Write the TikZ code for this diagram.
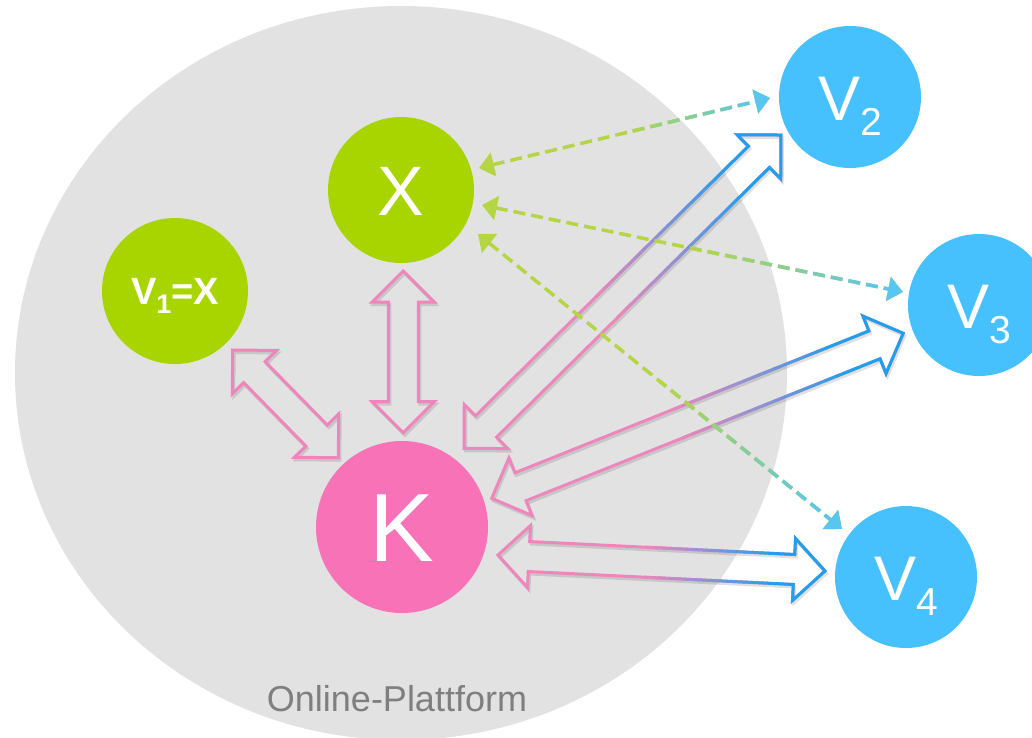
\documentclass[tikz,border=0pt]{standalone}
\usepackage{fontspec}
\setmainfont{Liberation Sans}
\usetikzlibrary{arrows.meta}
\definecolor{bgc}{HTML}{E2E2E2}
\definecolor{grn}{HTML}{A8D400}
\definecolor{pnk}{HTML}{F772B6}
\definecolor{blu}{HTML}{47C1FE}
\definecolor{apink}{HTML}{EE86BC}
\definecolor{ablue}{HTML}{1FA0EE}
\definecolor{dgreen}{HTML}{B6D545}
\definecolor{dblue}{HTML}{59C6F2}
\definecolor{labelgray}{HTML}{7F7F7F}
\tikzset{
  ball/.style={circle, inner sep=0pt, text=white},
  blockline/.style={line width=3pt, line join=miter},
  blockshape/.style={insert path={(0,0) -- (31,31) -- (31,15) -- ({\blen-31},15) -- ({\blen-31},31) -- ({\blen},0) -- ({\blen-31},-31) -- ({\blen-31},-15) -- (31,-15) -- (31,-31) -- cycle}},
  dline/.style={line width=3.5pt, dash pattern=on 12pt off 6pt, >={Triangle[length=15pt,width=24pt]}, <->}
}
\newcommand{\myblockarrow}[5]{%
  \pgfpointdiff{\pgfpointanchor{#1}{center}}{\pgfpointanchor{#2}{center}}%
  \pgfgetlastxy{\bdx}{\bdy}%
  \pgfmathsetmacro{\bang}{atan2(\bdy,\bdx)}%
  \pgfmathsetmacro{\blen}{veclen(\bdx,\bdy)}%
  \begin{scope}[shift={(#1)}, shift={(1.5,2.5)}, rotate=\bang]
    \draw[blockline, draw=black, opacity=0.12, blockshape];
  \end{scope}
  \begin{scope}[shift={(#1)}, rotate=\bang]
    \draw[blockline, draw=#3, blockshape];
    \ifnum#5=1
      \foreach \k in {0,...,15}{%
        \pgfmathsetmacro{\ta}{(0.45+0.025*\k)*\blen}%
        \pgfmathsetmacro{\tb}{(0.45+0.025*(\k+1))*\blen+0.5}%
        \pgfmathtruncatemacro{\pc}{round(100*(\k+0.5)/16)}%
        \begin{scope}
          \clip (\ta,-50) rectangle (\tb,50);
          \draw[blockline, draw=#4!\pc!#3, blockshape];
        \end{scope}}
      \begin{scope}
        \clip ({0.85*\blen},-50) rectangle ({\blen+20},50);
        \draw[blockline, draw=#4, blockshape];
      \end{scope}
    \fi
  \end{scope}}
\newcommand{\mydasharrow}[4]{%
  \pgfpointdiff{\pgfpointanchor{#1}{center}}{\pgfpointanchor{#2}{center}}%
  \pgfgetlastxy{\ddx}{\ddy}%
  \pgfmathsetmacro{\dang}{atan2(\ddy,\ddx)}%
  \pgfmathsetmacro{\dlen}{veclen(\ddx,\ddy)}%
  \begin{scope}[shift={(#1)}, rotate=\dang]
    \draw[dline, draw=#3] (0,0) -- (\dlen,0);
    \foreach \k in {0,...,15}{%
      \pgfmathsetmacro{\ta}{(0.5+0.028*\k)*\dlen}%
      \pgfmathsetmacro{\tb}{(0.5+0.028*(\k+1))*\dlen+0.5}%
      \pgfmathtruncatemacro{\pc}{round(100*(\k+0.5)/16)}%
      \begin{scope}
        \clip (\ta,-30) rectangle (\tb,30);
        \draw[dline, draw=#4!\pc!#3] (0,0) -- (\dlen,0);
      \end{scope}}
    \begin{scope}
      \clip ({0.948*\dlen},-30) rectangle ({\dlen+10},30);
      \draw[dline, draw=#4] (0,0) -- (\dlen,0);
    \end{scope}
  \end{scope}}
\begin{document}
\begin{tikzpicture}[x=1pt,y=-1pt]
\clip (0,0) rectangle (1032,737);
\fill[white] (0,0) rectangle (1032,737);
% platform
\fill[bgc] (401,373) ellipse [x radius=386, y radius=367];
\node[anchor=base, text=labelgray, font=\fontsize{36}{36}\selectfont] (plat) at (397,711.5) {Online-Plattform};

% nodes
\node[ball, fill=grn, minimum size=146pt] (X) at (401,190)
  {\raisebox{-25pt}[0pt][0pt]{\fontsize{70}{70}\selectfont X}};
\node[ball, fill=grn, minimum size=146pt] (V1) at (175,291)
  {\raisebox{-13pt}[0pt][0pt]{\fontsize{38}{38}\selectfont\bfseries V\raisebox{-9pt}{\fontsize{27}{27}\selectfont 1}=X}};
\node[ball, fill=pnk, minimum size=172pt] (K) at (402,527)
  {\raisebox{-34.5pt}[0pt][0pt]{\fontsize{97}{97}\selectfont K}};
\node[ball, fill=blu, minimum size=142pt] (V2) at (850,97)
  {\raisebox{-23pt}[0pt][0pt]{\fontsize{63}{63}\selectfont V\raisebox{-15pt}{\fontsize{39}{39}\selectfont 2}}};
\node[ball, fill=blu, minimum size=142pt] (V3) at (979,305)
  {\raisebox{-23pt}[0pt][0pt]{\fontsize{63}{63}\selectfont V\raisebox{-15pt}{\fontsize{39}{39}\selectfont 3}}};
\node[ball, fill=blu, minimum size=142pt] (V4) at (906,577)
  {\raisebox{-23pt}[0pt][0pt]{\fontsize{63}{63}\selectfont V\raisebox{-15pt}{\fontsize{39}{39}\selectfont 4}}};

% arrow end points
\coordinate (a1s) at (232.7,350);   \coordinate (a1e) at (338.3,457.7);
\coordinate (a2s) at (403.3,271);   \coordinate (a2e) at (403.3,432.7);
\coordinate (a3s) at (464,448.3);   \coordinate (a3e) at (781,135);
\coordinate (a4s) at (491.7,498.3); \coordinate (a4e) at (903.3,333.3);
\coordinate (a5s) at (498,555);     \coordinate (a5e) at (825,571);
\coordinate (d1s) at (479,168);     \coordinate (d1e) at (770,98);
\coordinate (d2s) at (482,205);     \coordinate (d2e) at (903,292);
\coordinate (d3s) at (478,234);     \coordinate (d3e) at (842,529);

% block arrows
\myblockarrow{a1s}{a1e}{apink}{apink}{0}
\myblockarrow{a2s}{a2e}{apink}{apink}{0}
\myblockarrow{a3s}{a3e}{apink}{ablue}{1}
\myblockarrow{a4s}{a4e}{apink}{ablue}{1}
\myblockarrow{a5s}{a5e}{apink}{ablue}{1}

% dashed arrows
\mydasharrow{d1s}{d1e}{dgreen}{dblue}
\mydasharrow{d2s}{d2e}{dgreen}{dblue}
\mydasharrow{d3s}{d3e}{dgreen}{dblue}
\end{tikzpicture}
\end{document}
